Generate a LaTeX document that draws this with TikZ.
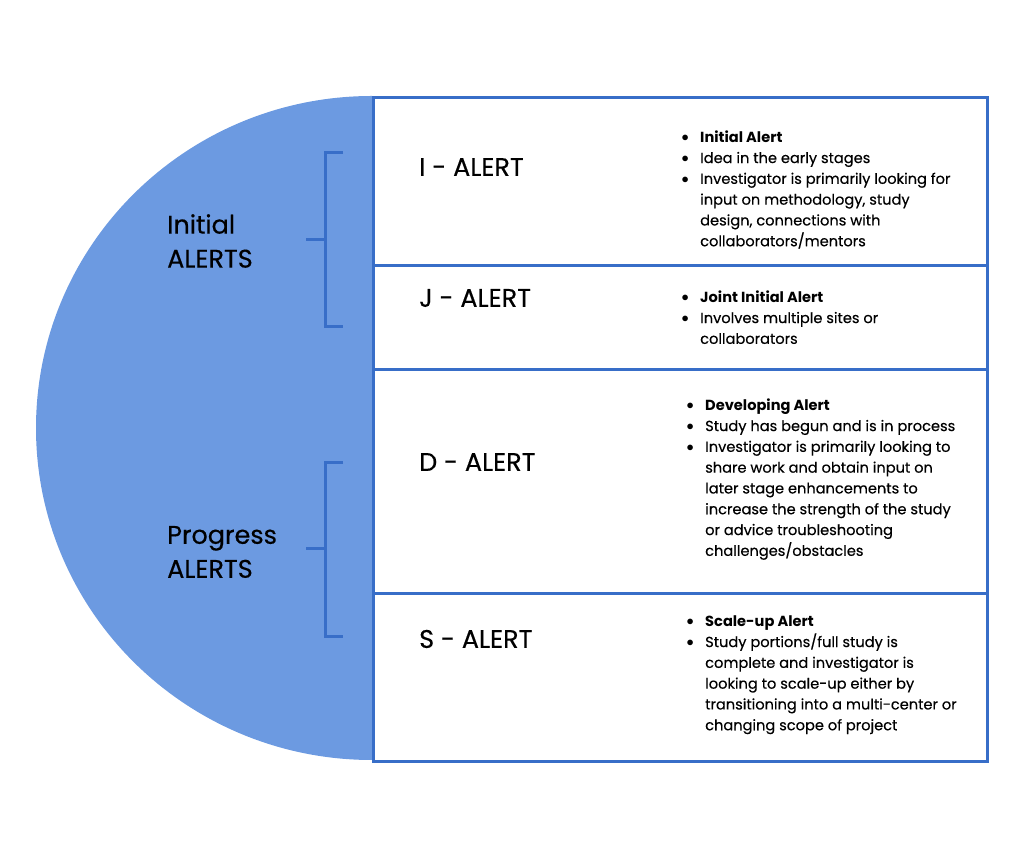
\documentclass[tikz,border=0pt]{standalone}
\usepackage{fontspec}
\setmainfont{Poppins}
\newfontfamily\medfont{Poppins}[UprightFeatures={FakeBold=0.35}]
\definecolor{halffill}{RGB}{108,154,225}
\definecolor{lineblue}{RGB}{56,110,200}
\newcommand\bl{\raisebox{0.5pt}{$\bullet$}}
\tikzset{
  rowbox/.style={draw=lineblue, line width=3pt, fill=white, anchor=north west, minimum width=614pt, inner sep=0pt},
  rowtitle/.style={anchor=west, inner sep=0pt, font=\medfont\fontsize{25.5}{30}\selectfont},
  grouplabel/.style={anchor=west, align=left, inner sep=0pt, font=\medfont\fontsize{25.5}{34}\selectfont},
  bullets/.style={anchor=north west, inner sep=0pt, font=\medfont\fontsize{14.6}{20.8}\selectfont},
  bracket/.style={draw=lineblue, line width=3pt}
}
\begin{document}
\begin{tikzpicture}[x=1pt,y=1pt]
\useasboundingbox (0,0) rectangle (1024,858);
% half disc
\fill[halffill] (372,762) arc[start angle=90, end angle=270, x radius=336, y radius=332] -- cycle;
% rows
\node[rowbox, minimum height=168pt] (r1) at (372,762) {};
\node[rowbox, minimum height=104pt] (r2) at (372,594) {};
\node[rowbox, minimum height=224pt] (r3) at (372,490) {};
\node[rowbox, minimum height=168pt] (r4) at (372,266) {};
% titles
\node[rowtitle] (t1) at (419,691) {I - ALERT};
\node[rowtitle] (t2) at (419,560) {J - ALERT};
\node[rowtitle] (t3) at (419,396) {D - ALERT};
\node[rowtitle] (t4) at (419,219) {S - ALERT};
% bullets
\node[bullets] (b1) at (681.3,730.5) {\begin{tabular}[t]{@{}p{18.7pt}@{}l@{}}
\bl & \textbf{Initial Alert}\\
\bl & Idea in the early stages\\
\bl & Investigator is primarily looking for\\
 & input on methodology, study\\
 & design, connections with\\
 & collaborators/mentors
\end{tabular}};
\node[bullets] (b2) at (681.3,570.5) {\begin{tabular}[t]{@{}p{18.7pt}@{}l@{}}
\bl & \textbf{Joint Initial Alert}\\
\bl & Involves multiple sites or\\
 & collaborators
\end{tabular}};
\node[bullets] (b3) at (686.3,462.5) {\begin{tabular}[t]{@{}p{18.7pt}@{}l@{}}
\bl & \textbf{Developing Alert}\\
\bl & Study has begun and is in process\\
\bl & Investigator is primarily looking to\\
 & share work and obtain input on\\
 & later stage enhancements to\\
 & increase the strength of the study\\
 & or advice troubleshooting\\
 & challenges/obstacles
\end{tabular}};
\node[bullets] (b4) at (686.3,246.5) {\begin{tabular}[t]{@{}p{18.7pt}@{}l@{}}
\bl & \textbf{Scale-up Alert}\\
\bl & Study portions/full study is\\
 & complete and investigator is\\
 & looking to scale-up either by\\
 & transitioning into a multi-center or\\
 & changing scope of project
\end{tabular}};
% group labels
\node[grouplabel] (g1) at (167,617) {Initial\\ALERTS};
\node[grouplabel] (g2) at (167,306) {Progress\\ALERTS};
% brackets
\coordinate (i1) at (343,705); \coordinate (i2) at (343,531); \coordinate (im) at (306,618);
\coordinate (p1) at (343,395); \coordinate (p2) at (343,221); \coordinate (pm) at (306,309);
\draw[bracket] (i1) -- (325,705) -- (325,531) -- (i2);
\draw[bracket] (im) -- (325,618);
\draw[bracket] (p1) -- (325,395) -- (325,221) -- (p2);
\draw[bracket] (pm) -- (325,309);
\end{tikzpicture}
\end{document}
